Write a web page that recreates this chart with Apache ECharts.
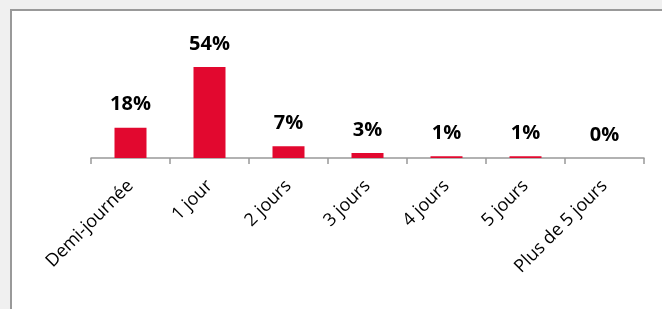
<!DOCTYPE html>
<html>
<head>
<meta charset="utf-8">
<script src="https://cdn.jsdelivr.net/npm/echarts@6/dist/echarts.min.js"></script>
<style>
  html, body { margin: 0; padding: 0; background: #f0f0f0; }
  #chart { width: 662px; height: 309px; }
</style>
</head>
<body>
<div id="chart"></div>
<script>
// durée des absences
const categories = ["Demi-journée", "1 jour", "2 jours", "3 jours", "4 jours", "5 jours", "Plus de 5 jours"];
const values = [18, 54, 7, 3, 1, 1, 0];

const chart = echarts.init(document.getElementById("chart"));

const option = {
  backgroundColor: "#f0f0f0",
  animation: false,
  graphic: [
    {
      type: "rect",
      z: -10,
      shape: { x: 11, y: 10, width: 700, height: 400 },
      style: { fill: "#ffffff", stroke: "#999999", lineWidth: 2 },
    },
  ],
  grid: {
    left: 91,
    right: 18,
    top: 57,
    bottom: 151,
  },
  xAxis: {
    type: "category",
    data: categories,
    axisLine: {
      lineStyle: { color: "#999999", width: 1.5 },
    },
    axisTick: {
      show: true,
      alignWithLabel: false,
      interval: 0,
      length: 6,
      lineStyle: { color: "#999999", width: 1.5 },
    },
    axisLabel: {
      rotate: 45,
      margin: 25,
      interval: 0,
      color: "#000000",
      fontFamily: "Open Sans",
      fontSize: 18,
    },
  },
  yAxis: {
    type: "value",
    min: 0,
    max: 60,
    show: false,
  },
  series: [
    {
      type: "bar",
      data: values,
      barWidth: 32,
      itemStyle: { color: "#e2082f" },
      label: {
        show: true,
        position: "top",
        distance: 13,
        formatter: "{c}%",
        color: "#000000",
        fontFamily: "Open Sans",
        fontWeight: "bold",
        fontSize: 20,
      },
    },
  ],
};

chart.setOption(option);
</script>
</body>
</html>
